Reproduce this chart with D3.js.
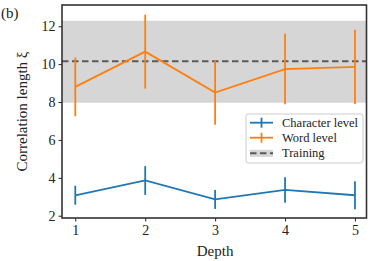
<!DOCTYPE html>
<html><head><meta charset="utf-8">
<script src="https://cdn.jsdelivr.net/npm/d3@7"></script>
<style>body{margin:0;background:#fff}svg{display:block}text{font-family:"Liberation Serif","DejaVu Serif",serif}</style>
</head><body>
<script>
const depths = [1, 2, 3, 4, 5];
const charMean = [3.08, 3.86, 2.86, 3.36, 3.08];
const charErr  = [0.50, 0.76, 0.50, 0.67, 0.74];
const wordMean = [8.80, 10.66, 8.50, 9.74, 9.85];
const wordErr  = [1.55, 1.95, 1.70, 1.86, 1.96];
const trainMean = 10.15;
const trainLow = 7.96, trainHigh = 12.29;
const yTicks = [2, 4, 6, 8, 10, 12];
const xTicks = [1, 2, 3, 4, 5];
const seriesNames = ["Character level", "Word level", "Training"];

const W = 374, H = 261;
const svg = d3.select("body").append("svg").attr("width", W).attr("height", H);
const x = d3.scaleLinear().domain([0.81, 5.165]).range([62, 366.5]);
const y = d3.scaleLinear().domain([1.88, 13.12]).range([218, 5]);
const blue = "#1f77b4", orange = "#ff7f0e";

// band
svg.append("rect").attr("x", x(0.81)).attr("width", x(5.165) - x(0.81))
  .attr("y", y(trainHigh)).attr("height", y(trainLow) - y(trainHigh)).attr("fill", "#d6d6d6");
// dashed training line
svg.append("line").attr("x1", x(0.81)).attr("x2", x(5.165)).attr("y1", y(trainMean)).attr("y2", y(trainMean))
  .attr("stroke", "#5a5a5a").attr("stroke-width", 1.9).attr("stroke-dasharray", "6.5,3.5");

function series(mean, err, color) {
  const pts = depths.map((d, i) => [d, mean[i], err[i]]);
  svg.append("path").datum(pts).attr("fill", "none").attr("stroke", color).attr("stroke-width", 1.8)
    .attr("d", d3.line().x(p => x(p[0])).y(p => y(p[1])));
  svg.selectAll(null).data(pts).enter().append("line")
    .attr("x1", p => x(p[0])).attr("x2", p => x(p[0]))
    .attr("y1", p => y(p[1] - p[2])).attr("y2", p => y(p[1] + p[2]))
    .attr("stroke", color).attr("stroke-width", 1.8);
}
series(charMean, charErr, blue);
series(wordMean, wordErr, orange);

// axes
const xAxis = d3.axisBottom(x).tickValues(xTicks).tickSize(3.5).tickPadding(4).tickFormat(d3.format("d"));
const yAxis = d3.axisLeft(y).tickValues(yTicks).tickSize(3.5).tickPadding(3).tickFormat(d3.format("d"));
const gx = svg.append("g").attr("transform", `translate(0,${y(1.88)})`).call(xAxis);
const gy = svg.append("g").attr("transform", `translate(${x(0.81)},0)`).call(yAxis);
[gx, gy].forEach(g => {
  g.select(".domain").remove();
  g.selectAll(".tick line").attr("stroke", "#222").attr("stroke-width", 1);
  g.selectAll(".tick text").attr("fill", "#222").style("font-size", "14px");
});
// frame
svg.append("rect").attr("x", x(0.81)).attr("y", y(13.12)).attr("width", x(5.165) - x(0.81))
  .attr("height", y(1.88) - y(13.12)).attr("fill", "none").attr("stroke", "#333").attr("stroke-width", 1.6);

// labels
svg.append("text").attr("x", x(3)).attr("y", 256).attr("text-anchor", "middle")
  .style("font-size", "15px").attr("fill", "#222").text("Depth");
svg.append("text").attr("transform", `translate(27,${(y(1.88) + y(13.12)) / 2}) rotate(-90)`)
  .attr("text-anchor", "middle").style("font-size", "15px").attr("fill", "#222").text("Correlation length ξ");
svg.append("text").attr("x", 1).attr("y", 18).style("font-size", "15px").attr("fill", "#222").text("(b)");

// legend
const lg = svg.append("g");
lg.append("rect").attr("x", 246).attr("y", 114).attr("width", 117).attr("height", 49).attr("rx", 2.5)
  .attr("fill", "#fff").attr("fill-opacity", 0.85).attr("stroke", "#ccc").attr("stroke-width", 1);
const rows = [122.7, 137.7, 153.3];
[blue, orange].forEach((c, i) => {
  lg.append("line").attr("x1", 250).attr("x2", 273).attr("y1", rows[i]).attr("y2", rows[i])
    .attr("stroke", c).attr("stroke-width", 1.8);
  lg.append("line").attr("x1", 261.5).attr("x2", 261.5).attr("y1", rows[i] - 5).attr("y2", rows[i] + 5)
    .attr("stroke", c).attr("stroke-width", 1.8);
});
lg.append("rect").attr("x", 250).attr("y", rows[2] - 3.5).attr("width", 23).attr("height", 7).attr("fill", "#d6d6d6");
lg.append("line").attr("x1", 250).attr("x2", 273).attr("y1", rows[2]).attr("y2", rows[2])
  .attr("stroke", "#5a5a5a").attr("stroke-width", 1.9).attr("stroke-dasharray", "6.5,3.5");
seriesNames.forEach((n, i) => {
  lg.append("text").attr("x", 282).attr("y", rows[i] + 4).style("font-size", "12.5px").attr("fill", "#222").text(n);
});
</script>
</body></html>
